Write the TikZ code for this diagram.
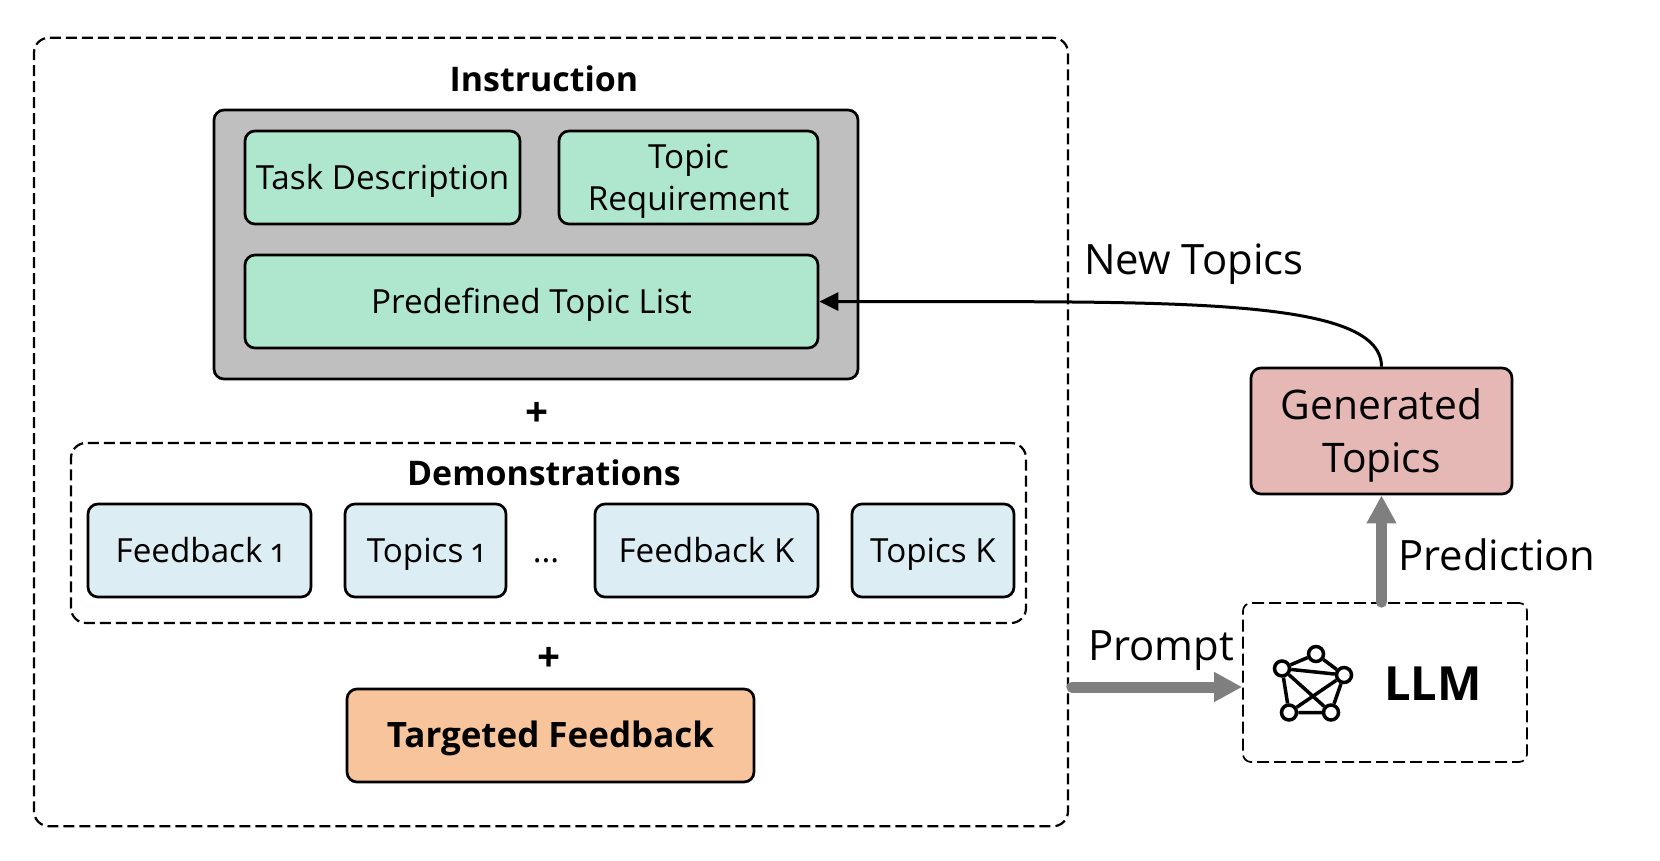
\documentclass[tikz,border=0pt]{standalone}
\usepackage{fontspec}
\setmainfont[Numbers=OldStyle]{Open Sans}
\usepackage{xcolor}
\usetikzlibrary{arrows.meta}

\definecolor{boxgray}{HTML}{BFBFBF}
\definecolor{boxgreen}{HTML}{AFE6CE}
\definecolor{boxblue}{HTML}{DCEDF3}
\definecolor{boxorange}{HTML}{F8C49B}
\definecolor{boxred}{HTML}{E6B8B5}
\definecolor{arrowgray}{HTML}{7F7F7F}

\tikzset{
    roundbox/.style={draw, line width=0.027cm, rounded corners=0.1cm, inner sep=0pt, align=center, text height=7pt, text depth=0pt, font=\fontsize{9.45}{12.2}\selectfont},
    greenbox/.style={roundbox, fill=boxgreen, minimum height=0.93cm},
    bluebox/.style={roundbox, fill=boxblue, minimum height=0.93cm},
    dashbox/.style={draw, line width=0.022cm, dash pattern=on 0.11cm off 0.05cm, rounded corners=0.15cm, inner sep=0pt},
    title/.style={font=\fontsize{9.65}{12}\selectfont\bfseries},
    plussign/.style={font=\fontsize{11.5}{12}\selectfont\bfseries},
    biglabel/.style={font=\fontsize{11.9}{13}\selectfont},
    grayarrow/.style={draw=arrowgray, line width=0.11cm, line cap=round, -{Triangle[length=0.28cm, width=0.28cm, fill=arrowgray]}},
    netnode/.style={circle, draw, fill=white, line width=0.035cm, inner sep=0pt, minimum size=0.15cm},
}

\begin{document}
\begin{tikzpicture}
    \useasboundingbox (0, 0) rectangle (16.6, -8.6);

    \node[dashbox, minimum width=10.34cm, minimum height=7.885cm] (outer) at (5.51, -4.32) {};
    \node[title] (instruction) at (5.44, -0.79) {Instruction};
    \node[roundbox, fill=boxgray, minimum width=6.44cm, minimum height=2.69cm] (graybox) at (5.36, -2.445) {};
    \node[greenbox, minimum width=2.75cm] (task) at (3.825, -1.775) {Task Description};
    \node[greenbox, minimum width=2.59cm, text height=19pt] (topicreq) at (6.885, -1.775) {Topic\\Requirement};
    \node[greenbox, minimum width=5.73cm] (predefined) at (5.315, -3.015) {Predefined Topic List};

    \node[plussign] (plusa) at (5.37, -4.14) {+};

    \node[dashbox, minimum width=9.55cm, minimum height=1.8cm] (demos) at (5.485, -5.33) {};
    \node[title] (demotitle) at (5.44, -4.73) {Demonstrations};
    \node[bluebox, minimum width=2.23cm] (feedbacka) at (1.995, -5.505) {Feedback 1};
    \node[bluebox, minimum width=1.61cm] (topicsa) at (4.255, -5.505) {Topics 1};
    \node[roundbox, draw=none] (dots) at (5.46, -5.5) {...};
    \node[bluebox, minimum width=2.23cm] (feedbackk) at (7.065, -5.505) {Feedback K};
    \node[bluebox, minimum width=1.62cm] (topicsk) at (9.33, -5.505) {Topics K};

    \node[plussign] (plusb) at (5.49, -6.59) {+};

    \node[roundbox, fill=boxorange, minimum width=4.07cm, minimum height=0.93cm, font=\fontsize{9.95}{12}\selectfont\bfseries] (targeted) at (5.505, -7.355) {Targeted Feedback};

    \node[roundbox, fill=boxred, minimum width=2.61cm, minimum height=1.26cm, text height=23.8pt, font=\fontsize{11.6}{15.3}\selectfont] (generated) at (13.815, -4.31) {Generated\\Topics};

    \node[dashbox, line width=0.017cm, dash pattern=on 0.12cm off 0.05cm, rounded corners=0.08cm, minimum width=2.84cm, minimum height=1.59cm] (llm) at (13.85, -6.825) {};
    \node[font=\fontsize{13.4}{16}\selectfont\bfseries] (llmtext) at (14.33, -6.84) {LLM};

    % network icon
    \node[netnode] (neta) at (12.82, -6.685) {};
    \node[netnode] (netb) at (13.16, -6.54) {};
    \node[netnode] (netc) at (13.44, -6.75) {};
    \node[netnode] (netd) at (13.31, -7.125) {};
    \node[netnode] (nete) at (12.89, -7.125) {};
    \draw[line width=0.035cm] (neta) to (netb)
        (netb) to (netc)
        (neta) to (netc)
        (neta) to (netd)
        (neta) to (nete)
        (netc) to (nete)
        (netc) to (netd)
        (nete) to (netd);

    \node[biglabel] (newtopics) at (11.94, -2.64) {New Topics};
    \node[biglabel] (prediction) at (14.97, -5.55) {Prediction};
    \node[biglabel] (prompt) at (11.61, -6.51) {Prompt};

    \coordinate (promptout) at (10.72, -6.87);

    \draw[line width=0.03cm, -{Triangle[length=0.19cm, width=0.18cm]}] (generated.north) .. controls +(0, 0.73) and +(3.32, -0.01) .. (predefined.east);
    \draw[grayarrow] (generated.south |- llm.north) to (generated.south);
    \draw[grayarrow] (promptout) to (llm.west |- promptout);
\end{tikzpicture}
\end{document}
